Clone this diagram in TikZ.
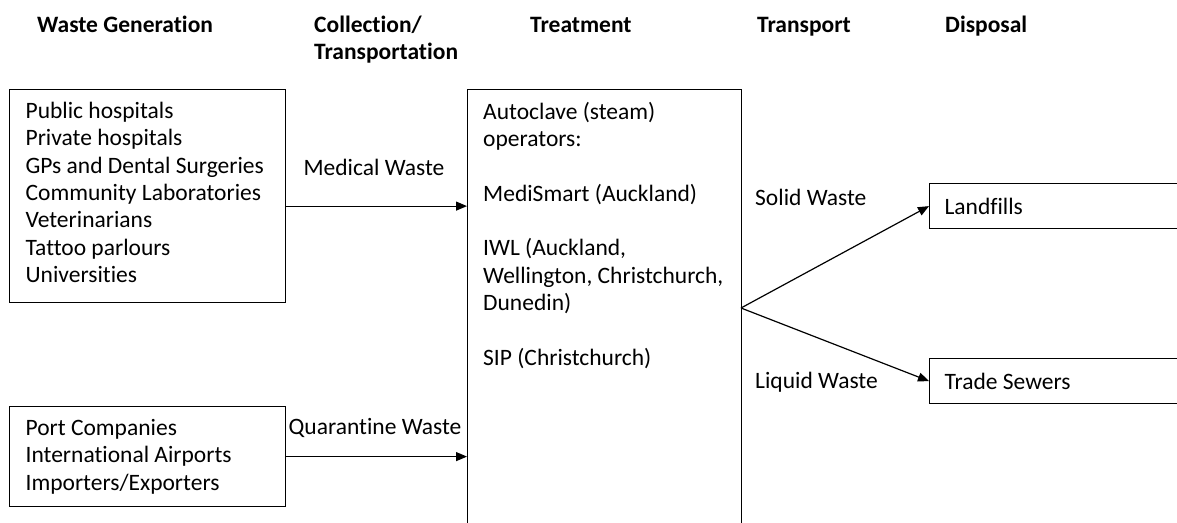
\documentclass[tikz,border=0pt]{standalone}
\usepackage{fontspec}
\setmainfont{Carlito}[Ligatures=NoCommon]
\usetikzlibrary{positioning,arrows.meta}

\begin{document}
\begin{tikzpicture}
[x=1pt,y=-1pt,>={Triangle[length=11pt,width=9pt]},
box/.style = {draw, line width=1.2pt, inner xsep=16pt, align=flush left, font=\fontsize{23.5}{27.3}\selectfont},
lbl/.style = {font=\fontsize{23.5}{27.3}\selectfont, inner sep=0pt},
head/.style = {font=\bfseries\fontsize{23.5}{27.3}\selectfont, inner sep=0pt, anchor=base west},
arr/.style = {->, line width=1.2pt},]
\useasboundingbox (0,0) rectangle (1177,522);

% column headings
\node[head] (hgen) at (37,32) {Waste Generation};
\node[head] (hcoll) at (314,32) {Collection/};
\node[head] (hcoll2) at (314,59) {Transportation};
\node[head] (htreat) at (530,32) {Treatment};
\node[head] (htrans) at (757,32) {Transport};
\node[head] (hdisp) at (945,32) {Disposal};

% sources
\node (gen) at (9,89)[box, anchor=north west, text width=244pt, inner ysep=0pt, text height=29pt, text depth=184pt] {Public hospitals\\Private hospitals\\GPs and Dental Surgeries\\Community Laboratories\\Veterinarians\\Tattoo parlours\\Universities};
\node (port) at (9,406)[box, anchor=north west, text width=244pt, minimum height=100pt] {Port Companies\\International Airports\\Importers/Exporters};

% treatment
\node (treat) at (467,89)[draw, line width=1.2pt, anchor=north west, minimum width=274pt, minimum height=460pt] {};
\node (treattxt) at (483,365)[lbl, anchor=base west, align=left] {Autoclave (steam)\\operators:\\[27.3pt]MediSmart (Auckland)\\[27.3pt]IWL (Auckland,\\Wellington, Christchurch,\\Dunedin)\\[27.3pt]SIP (Christchurch)};

% disposal
\node (land) at (929,183)[box, anchor=north west, inner xsep=15pt, text width=300pt, minimum height=45pt] {Landfills};
\node (sew) at (929,358)[box, anchor=north west, inner xsep=15pt, text width=300pt, minimum height=45pt] {Trade Sewers};

\coordinate (medstart) at ([yshift=-10pt]gen.east);
\coordinate (fork) at (741,308);

\draw[arr] (medstart) -- (medstart -| treat.west);
\draw[arr] (port.east) -- (port.east -| treat.west);
\draw[arr] (fork) -- (land.west);
\draw[arr] (fork) -- (sew.west);

\node[lbl] (medlbl) at (374,167) {Medical Waste};
\node[lbl] (quarlbl) at (375,428) {Quarantine Waste};
\node[lbl, anchor=west] (solidlbl) at (755,197) {Solid Waste};
\node[lbl, anchor=west] (liquidlbl) at (755,382) {Liquid Waste};

\end{tikzpicture}
\end{document}
